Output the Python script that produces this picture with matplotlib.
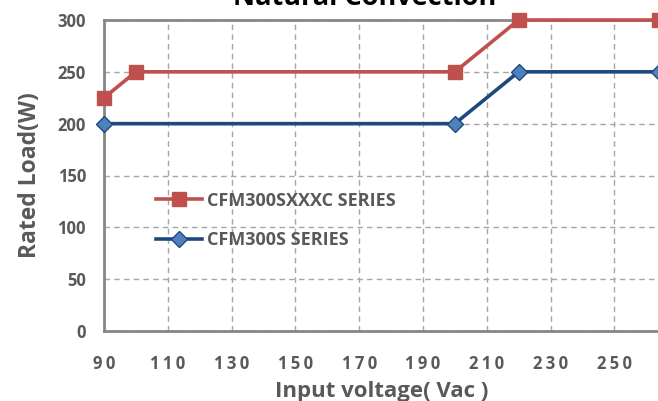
import matplotlib
matplotlib.use("Agg")
import matplotlib.pyplot as plt

# input voltage (Vac) and rated load (W)
volt_sxxxc = [90, 100, 200, 220, 264]
load_sxxxc = [225, 250, 250, 300, 300]
volt_s = [90, 200, 220, 264]
load_s = [200, 200, 250, 250]

x_ticks = [90, 110, 130, 150, 170, 190, 210, 230, 250]
y_ticks = [0, 50, 100, 150, 200, 250, 300]

red = "#C0504D"
blue = "#1F497D"
gray_txt = "#595959"

plt.rcParams['font.family'] = ['Open Sans', 'DejaVu Sans']

fig = plt.figure(figsize=(6.58, 4.01), dpi=100)
ax = fig.add_axes([104 / 658, 70 / 401, 555 / 658, 311 / 401])

ax.plot(volt_sxxxc, load_sxxxc, color=red, lw=2.6, marker='s', ms=10.5,
        mfc=red, mec=red, label="CFM300SXXXC SERIES", clip_on=False, zorder=4)
ax.plot(volt_s, load_s, color=blue, lw=2.6, marker='D', ms=8.5,
        mfc="#4F81BD", mec=blue, mew=1, label="CFM300S SERIES", clip_on=False, zorder=5)

ax.set_xlim(90, 264)
ax.set_ylim(0, 300)
ax.set_xticks(x_ticks)
# the x tick labels are letter-spaced in the original
ax.set_xticklabels(["\u2009".join(str(v)) for v in x_ticks])
ax.set_yticks(y_ticks)
ax.grid(True, ls=(0, (4, 3)), color="#A6A6A6", lw=1)
ax.set_axisbelow(True)

for s in ['left', 'bottom', 'top']:
    ax.spines[s].set_color("#868686")
    ax.spines[s].set_linewidth(2)
ax.spines['right'].set_visible(False)
ax.tick_params(length=0, colors=gray_txt, labelsize=12)
ax.tick_params(axis='x', pad=17)
ax.tick_params(axis='y', pad=13)
for lab in ax.get_xticklabels() + ax.get_yticklabels():
    lab.set_fontweight('bold')

ax.set_xlabel("Input voltage( Vac )", fontsize=16, fontweight='bold', color=gray_txt, labelpad=6)
ax.set_ylabel("Rated Load(W)", fontsize=16.5, fontweight='bold', color=gray_txt, labelpad=11)

leg = ax.legend(loc='upper left', bbox_to_anchor=(0.065, 0.5), frameon=False,
                prop={'weight': 'bold', 'size': 13}, labelcolor=gray_txt,
                handlelength=2.55, handletextpad=0.28, labelspacing=1.2)

fig.text(365 / 658, 396 / 401, "Natural Convection", ha='center', va='baseline',
         fontsize=19.5, fontweight='bold', color='black')

fig.savefig("out.png", dpi=100)
